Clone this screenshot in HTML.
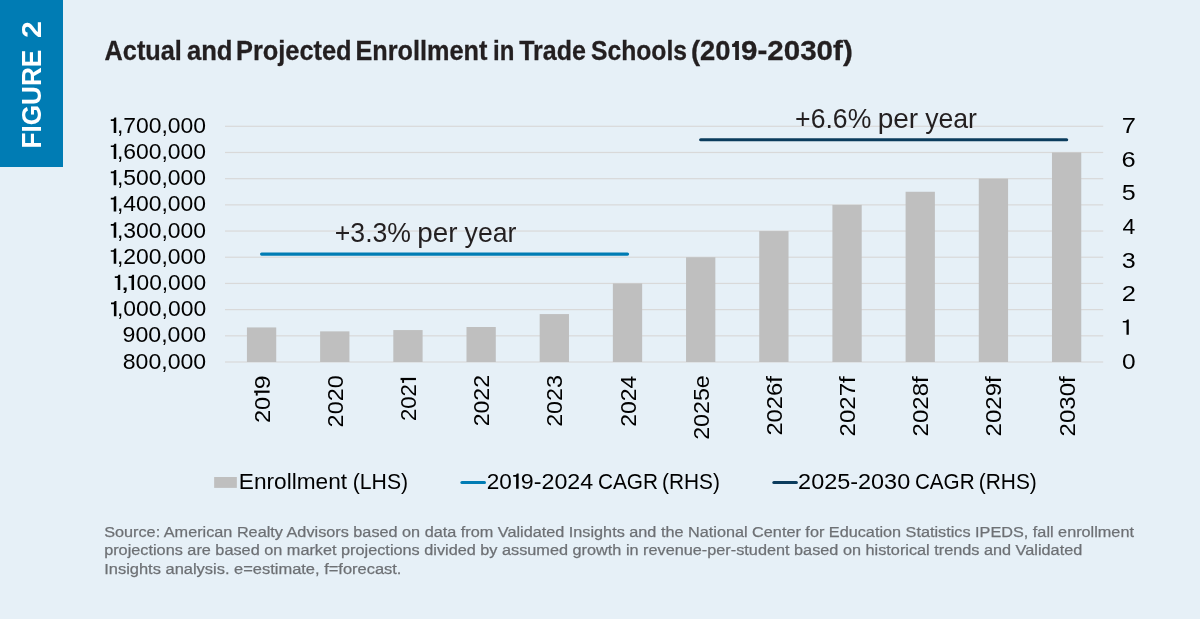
<!DOCTYPE html>
<html><head><meta charset="utf-8"><style>
html,body{margin:0;padding:0;background:#E6F0F7;}
body{width:1200px;height:619px;background:#E6F0F7;position:relative;overflow:hidden;font-family:"Liberation Sans",sans-serif;}
#fig{position:absolute;left:0;top:0;width:63px;height:167px;background:#007CB4;}
svg{position:absolute;left:0;top:0;will-change:transform;}
</style></head><body>
<div id="fig"></div>
<svg width="1200" height="619" viewBox="0 0 1200 619">
<rect x="225.0" y="125.70" width="878.20" height="1.2" fill="#D9D9D9"/>
<rect x="225.0" y="151.89" width="878.20" height="1.2" fill="#D9D9D9"/>
<rect x="225.0" y="178.08" width="878.20" height="1.2" fill="#D9D9D9"/>
<rect x="225.0" y="204.27" width="878.20" height="1.2" fill="#D9D9D9"/>
<rect x="225.0" y="230.46" width="878.20" height="1.2" fill="#D9D9D9"/>
<rect x="225.0" y="256.64" width="878.20" height="1.2" fill="#D9D9D9"/>
<rect x="225.0" y="282.83" width="878.20" height="1.2" fill="#D9D9D9"/>
<rect x="225.0" y="309.02" width="878.20" height="1.2" fill="#D9D9D9"/>
<rect x="225.0" y="335.21" width="878.20" height="1.2" fill="#D9D9D9"/>
<rect x="225.0" y="361.40" width="878.20" height="1.2" fill="#D9D9D9"/>
<rect x="246.94" y="327.43" width="29.3" height="34.57" fill="#BFBFBF"/>
<rect x="320.12" y="331.36" width="29.3" height="30.64" fill="#BFBFBF"/>
<rect x="393.31" y="330.05" width="29.3" height="31.95" fill="#BFBFBF"/>
<rect x="466.49" y="327.01" width="29.3" height="34.99" fill="#BFBFBF"/>
<rect x="539.68" y="314.07" width="29.3" height="47.93" fill="#BFBFBF"/>
<rect x="612.86" y="283.43" width="29.3" height="78.57" fill="#BFBFBF"/>
<rect x="686.04" y="257.24" width="29.3" height="104.76" fill="#BFBFBF"/>
<rect x="759.23" y="231.06" width="29.3" height="130.94" fill="#BFBFBF"/>
<rect x="832.41" y="204.87" width="29.3" height="157.13" fill="#BFBFBF"/>
<rect x="905.59" y="191.77" width="29.3" height="170.23" fill="#BFBFBF"/>
<rect x="978.78" y="178.68" width="29.3" height="183.32" fill="#BFBFBF"/>
<rect x="1051.96" y="152.49" width="29.3" height="209.51" fill="#BFBFBF"/>
<line x1="261.59" y1="254.1" x2="627.51" y2="254.1" stroke="#007CB4" stroke-width="3.2" stroke-linecap="round"/>
<line x1="700.69" y1="139.75" x2="1066.61" y2="139.75" stroke="#0B3C5D" stroke-width="3.2" stroke-linecap="round"/>
<rect x="214.15" y="477" width="22.7" height="10.9" fill="#BFBFBF"/>
<line x1="461.9" y1="482.5" x2="484.5" y2="482.5" stroke="#007CB4" stroke-width="3" stroke-linecap="round"/>
<line x1="773.8" y1="482.5" x2="796.4" y2="482.5" stroke="#0B3C5D" stroke-width="3" stroke-linecap="round"/>
<path d="M732.10,44.10 L733.70,43.50 Q734.90,42.70 735.30,41.10 L738.90,41.10 L738.90,59.90 L735.20,59.90 L735.20,47.10 L732.10,47.10 Z" fill="#231F20"/>
<rect x="254.19" y="390.60" width="15.4" height="2.2" fill="#000"/>
<rect x="255.79" y="392.60" width="1.9" height="3.0" fill="#000"/>
<rect x="400.56" y="377.90" width="15.4" height="2.2" fill="#000"/>
<rect x="402.16" y="379.90" width="1.9" height="3.0" fill="#000"/>
<path d="M110.80,119.20 L113.10,119.20 Q114.20,118.90 114.50,117.60 L116.25,117.60 L116.25,132.90 L113.70,132.90 L113.70,120.90 L110.80,120.90 Z" fill="#000"/>
<path d="M110.80,145.39 L113.10,145.39 Q114.20,145.09 114.50,143.79 L116.25,143.79 L116.25,159.09 L113.70,159.09 L113.70,147.09 L110.80,147.09 Z" fill="#000"/>
<path d="M110.80,171.58 L113.10,171.58 Q114.20,171.28 114.50,169.98 L116.25,169.98 L116.25,185.28 L113.70,185.28 L113.70,173.28 L110.80,173.28 Z" fill="#000"/>
<path d="M110.80,197.77 L113.10,197.77 Q114.20,197.47 114.50,196.17 L116.25,196.17 L116.25,211.47 L113.70,211.47 L113.70,199.47 L110.80,199.47 Z" fill="#000"/>
<path d="M110.80,223.96 L113.10,223.96 Q114.20,223.66 114.50,222.36 L116.25,222.36 L116.25,237.66 L113.70,237.66 L113.70,225.66 L110.80,225.66 Z" fill="#000"/>
<path d="M110.80,250.14 L113.10,250.14 Q114.20,249.84 114.50,248.54 L116.25,248.54 L116.25,263.84 L113.70,263.84 L113.70,251.84 L110.80,251.84 Z" fill="#000"/>
<path d="M114.80,276.33 L117.10,276.33 Q118.20,276.03 118.50,274.73 L120.25,274.73 L120.25,290.03 L117.70,290.03 L117.70,278.03 L114.80,278.03 Z" fill="#000"/>
<path d="M128.60,276.33 L130.90,276.33 Q132.00,276.03 132.30,274.73 L134.05,274.73 L134.05,290.03 L131.50,290.03 L131.50,278.03 L128.60,278.03 Z" fill="#000"/>
<path d="M111.00,302.52 L113.30,302.52 Q114.40,302.22 114.70,300.92 L116.45,300.92 L116.45,316.22 L113.90,316.22 L113.90,304.22 L111.00,304.22 Z" fill="#000"/>
<path d="M513.20,475.05 L515.50,475.05 Q516.60,474.75 516.90,473.45 L518.65,473.45 L518.65,488.75 L516.10,488.75 L516.10,476.75 L513.20,476.75 Z" fill="#000"/>
<path d="M1122.8,321.0 L1125.4,321.0 Q1126.7,320.8 1127.1,319.4 L1128.8,319.4 L1128.8,334.8 L1126.5,334.8 L1126.5,322.6 L1122.8,322.6 Z" fill="#000"/>
<text id="fig1" transform="translate(41.00,148.47) rotate(-90)" textLength="98.65" lengthAdjust="spacingAndGlyphs" style="font-family:&quot;Liberation Sans&quot;,sans-serif;font-size:27.6px;font-weight:bold;fill:#fff">FIGURE</text>
<text id="fig2" transform="translate(41.00,38.07) rotate(-90)" textLength="16.93" lengthAdjust="spacingAndGlyphs" style="font-family:&quot;Liberation Sans&quot;,sans-serif;font-size:27.6px;font-weight:bold;fill:#fff">2</text>
<text id="title0" x="104.58" y="60.00" textLength="77.30" lengthAdjust="spacingAndGlyphs" style="font-family:&quot;Liberation Sans&quot;,sans-serif;font-size:27.0px;font-weight:bold;fill:#231F20;stroke:#231F20;stroke-width:0.3px">Actual</text>
<text id="title1" x="186.90" y="60.00" textLength="45.61" lengthAdjust="spacingAndGlyphs" style="font-family:&quot;Liberation Sans&quot;,sans-serif;font-size:27.0px;font-weight:bold;fill:#231F20;stroke:#231F20;stroke-width:0.3px">and</text>
<text id="title2" x="235.99" y="60.00" textLength="115.56" lengthAdjust="spacingAndGlyphs" style="font-family:&quot;Liberation Sans&quot;,sans-serif;font-size:27.0px;font-weight:bold;fill:#231F20;stroke:#231F20;stroke-width:0.3px">Projected</text>
<text id="title3" x="355.51" y="60.00" textLength="131.97" lengthAdjust="spacingAndGlyphs" style="font-family:&quot;Liberation Sans&quot;,sans-serif;font-size:27.0px;font-weight:bold;fill:#231F20;stroke:#231F20;stroke-width:0.3px">Enrollment</text>
<text id="title4" x="493.08" y="60.00" textLength="21.32" lengthAdjust="spacingAndGlyphs" style="font-family:&quot;Liberation Sans&quot;,sans-serif;font-size:27.0px;font-weight:bold;fill:#231F20;stroke:#231F20;stroke-width:0.3px">in</text>
<text id="title5" x="519.23" y="60.00" textLength="66.66" lengthAdjust="spacingAndGlyphs" style="font-family:&quot;Liberation Sans&quot;,sans-serif;font-size:27.0px;font-weight:bold;fill:#231F20;stroke:#231F20;stroke-width:0.3px">Trade</text>
<text id="title6" x="590.95" y="60.00" textLength="96.10" lengthAdjust="spacingAndGlyphs" style="font-family:&quot;Liberation Sans&quot;,sans-serif;font-size:27.0px;font-weight:bold;fill:#231F20;stroke:#231F20;stroke-width:0.3px">Schools</text>
<text id="title7" x="690.95" y="60.00" textLength="39.54" lengthAdjust="spacingAndGlyphs" style="font-family:&quot;Liberation Sans&quot;,sans-serif;font-size:27.0px;font-weight:bold;fill:#231F20;stroke:#231F20;stroke-width:0.3px">(20</text>
<text id="title8" x="741.03" y="60.00" textLength="111.74" lengthAdjust="spacingAndGlyphs" style="font-family:&quot;Liberation Sans&quot;,sans-serif;font-size:27.0px;font-weight:bold;fill:#231F20;stroke:#231F20;stroke-width:0.3px">9-2030f)</text>
<text id="yl0" x="116.91" y="132.80" textLength="89.18" lengthAdjust="spacingAndGlyphs" style="font-family:&quot;Liberation Sans&quot;,sans-serif;font-size:22.5px;font-weight:normal;fill:#000">,700,000</text>
<text id="yl1" x="116.91" y="158.99" textLength="89.18" lengthAdjust="spacingAndGlyphs" style="font-family:&quot;Liberation Sans&quot;,sans-serif;font-size:22.5px;font-weight:normal;fill:#000">,600,000</text>
<text id="yl2" x="116.91" y="185.18" textLength="89.18" lengthAdjust="spacingAndGlyphs" style="font-family:&quot;Liberation Sans&quot;,sans-serif;font-size:22.5px;font-weight:normal;fill:#000">,500,000</text>
<text id="yl3" x="116.91" y="211.37" textLength="89.18" lengthAdjust="spacingAndGlyphs" style="font-family:&quot;Liberation Sans&quot;,sans-serif;font-size:22.5px;font-weight:normal;fill:#000">,400,000</text>
<text id="yl4" x="116.91" y="237.56" textLength="89.18" lengthAdjust="spacingAndGlyphs" style="font-family:&quot;Liberation Sans&quot;,sans-serif;font-size:22.5px;font-weight:normal;fill:#000">,300,000</text>
<text id="yl5" x="116.91" y="263.74" textLength="89.18" lengthAdjust="spacingAndGlyphs" style="font-family:&quot;Liberation Sans&quot;,sans-serif;font-size:22.5px;font-weight:normal;fill:#000">,200,000</text>
<text id="yl6c" x="120.54" y="289.93" textLength="9.16" lengthAdjust="spacingAndGlyphs" style="font-family:&quot;Liberation Sans&quot;,sans-serif;font-size:22.5px;font-weight:normal;fill:#000">,</text>
<text id="yl6" x="136.52" y="289.93" textLength="69.55" lengthAdjust="spacingAndGlyphs" style="font-family:&quot;Liberation Sans&quot;,sans-serif;font-size:22.5px;font-weight:normal;fill:#000">00,000</text>
<text id="yl7" x="117.01" y="316.12" textLength="89.14" lengthAdjust="spacingAndGlyphs" style="font-family:&quot;Liberation Sans&quot;,sans-serif;font-size:22.5px;font-weight:normal;fill:#000">,000,000</text>
<text id="yl8" x="122.60" y="342.31" textLength="83.54" lengthAdjust="spacingAndGlyphs" style="font-family:&quot;Liberation Sans&quot;,sans-serif;font-size:22.5px;font-weight:normal;fill:#000">900,000</text>
<text id="yl9" x="122.69" y="368.50" textLength="83.50" lengthAdjust="spacingAndGlyphs" style="font-family:&quot;Liberation Sans&quot;,sans-serif;font-size:22.5px;font-weight:normal;fill:#000">800,000</text>
<text id="yr0" x="1121.76" y="132.90" textLength="14.23" lengthAdjust="spacingAndGlyphs" style="font-family:&quot;Liberation Sans&quot;,sans-serif;font-size:22.5px;font-weight:normal;fill:#000">7</text>
<text id="yr1" x="1121.63" y="166.57" textLength="14.15" lengthAdjust="spacingAndGlyphs" style="font-family:&quot;Liberation Sans&quot;,sans-serif;font-size:22.5px;font-weight:normal;fill:#000">6</text>
<text id="yr2" x="1121.89" y="200.24" textLength="13.94" lengthAdjust="spacingAndGlyphs" style="font-family:&quot;Liberation Sans&quot;,sans-serif;font-size:22.5px;font-weight:normal;fill:#000">5</text>
<text id="yr3" x="1122.55" y="233.91" textLength="12.82" lengthAdjust="spacingAndGlyphs" style="font-family:&quot;Liberation Sans&quot;,sans-serif;font-size:22.5px;font-weight:normal;fill:#000">4</text>
<text id="yr4" x="1121.88" y="267.59" textLength="13.95" lengthAdjust="spacingAndGlyphs" style="font-family:&quot;Liberation Sans&quot;,sans-serif;font-size:22.5px;font-weight:normal;fill:#000">3</text>
<text id="yr5" x="1121.73" y="301.26" textLength="14.19" lengthAdjust="spacingAndGlyphs" style="font-family:&quot;Liberation Sans&quot;,sans-serif;font-size:22.5px;font-weight:normal;fill:#000">2</text>
<text id="yr7" x="1122.03" y="368.60" textLength="13.61" lengthAdjust="spacingAndGlyphs" style="font-family:&quot;Liberation Sans&quot;,sans-serif;font-size:22.5px;font-weight:normal;fill:#000">0</text>
<text id="xl0a" transform="translate(269.59,423.08) rotate(-90)" textLength="26.21" lengthAdjust="spacingAndGlyphs" style="font-family:&quot;Liberation Sans&quot;,sans-serif;font-size:22.2px;font-weight:normal;fill:#000">20</text>
<text id="xl0b" transform="translate(269.59,389.24) rotate(-90)" textLength="13.81" lengthAdjust="spacingAndGlyphs" style="font-family:&quot;Liberation Sans&quot;,sans-serif;font-size:22.2px;font-weight:normal;fill:#000">9</text>
<text id="xl1" transform="translate(342.77,427.38) rotate(-90)" textLength="52.10" lengthAdjust="spacingAndGlyphs" style="font-family:&quot;Liberation Sans&quot;,sans-serif;font-size:22.2px;font-weight:normal;fill:#000">2020</text>
<text id="xl2a" transform="translate(415.96,421.04) rotate(-90)" textLength="36.87" lengthAdjust="spacingAndGlyphs" style="font-family:&quot;Liberation Sans&quot;,sans-serif;font-size:22.2px;font-weight:normal;fill:#000">202</text>
<text id="xl3" transform="translate(489.14,426.33) rotate(-90)" textLength="51.34" lengthAdjust="spacingAndGlyphs" style="font-family:&quot;Liberation Sans&quot;,sans-serif;font-size:22.2px;font-weight:normal;fill:#000">2022</text>
<text id="xl4" transform="translate(562.33,426.87) rotate(-90)" textLength="51.82" lengthAdjust="spacingAndGlyphs" style="font-family:&quot;Liberation Sans&quot;,sans-serif;font-size:22.2px;font-weight:normal;fill:#000">2023</text>
<text id="xl5" transform="translate(635.51,426.87) rotate(-90)" textLength="51.13" lengthAdjust="spacingAndGlyphs" style="font-family:&quot;Liberation Sans&quot;,sans-serif;font-size:22.2px;font-weight:normal;fill:#000">2024</text>
<text id="xl6" transform="translate(708.69,439.83) rotate(-90)" textLength="64.62" lengthAdjust="spacingAndGlyphs" style="font-family:&quot;Liberation Sans&quot;,sans-serif;font-size:22.2px;font-weight:normal;fill:#000">2025e</text>
<text id="xl7" transform="translate(781.88,435.61) rotate(-90)" textLength="59.42" lengthAdjust="spacingAndGlyphs" style="font-family:&quot;Liberation Sans&quot;,sans-serif;font-size:22.2px;font-weight:normal;fill:#000">2026f</text>
<text id="xl8" transform="translate(855.06,436.38) rotate(-90)" textLength="60.04" lengthAdjust="spacingAndGlyphs" style="font-family:&quot;Liberation Sans&quot;,sans-serif;font-size:22.2px;font-weight:normal;fill:#000">2027f</text>
<text id="xl9" transform="translate(928.24,436.38) rotate(-90)" textLength="60.04" lengthAdjust="spacingAndGlyphs" style="font-family:&quot;Liberation Sans&quot;,sans-serif;font-size:22.2px;font-weight:normal;fill:#000">2028f</text>
<text id="xl10" transform="translate(1001.43,436.38) rotate(-90)" textLength="60.04" lengthAdjust="spacingAndGlyphs" style="font-family:&quot;Liberation Sans&quot;,sans-serif;font-size:22.2px;font-weight:normal;fill:#000">2029f</text>
<text id="xl11" transform="translate(1074.61,436.38) rotate(-90)" textLength="60.04" lengthAdjust="spacingAndGlyphs" style="font-family:&quot;Liberation Sans&quot;,sans-serif;font-size:22.2px;font-weight:normal;fill:#000">2030f</text>
<text id="ann1_0" x="334.81" y="241.80" textLength="76.23" lengthAdjust="spacingAndGlyphs" style="font-family:&quot;Liberation Sans&quot;,sans-serif;font-size:27.8px;font-weight:normal;fill:#231F20">+3.3%</text>
<text id="ann1_1" x="417.27" y="241.80" textLength="40.17" lengthAdjust="spacingAndGlyphs" style="font-family:&quot;Liberation Sans&quot;,sans-serif;font-size:27.8px;font-weight:normal;fill:#231F20">per</text>
<text id="ann1_2" x="464.62" y="241.80" textLength="51.90" lengthAdjust="spacingAndGlyphs" style="font-family:&quot;Liberation Sans&quot;,sans-serif;font-size:27.8px;font-weight:normal;fill:#231F20">year</text>
<text id="ann2_0" x="795.10" y="128.00" textLength="76.21" lengthAdjust="spacingAndGlyphs" style="font-family:&quot;Liberation Sans&quot;,sans-serif;font-size:27.8px;font-weight:normal;fill:#231F20">+6.6%</text>
<text id="ann2_1" x="877.71" y="128.00" textLength="40.49" lengthAdjust="spacingAndGlyphs" style="font-family:&quot;Liberation Sans&quot;,sans-serif;font-size:27.8px;font-weight:normal;fill:#231F20">per</text>
<text id="ann2_2" x="925.17" y="128.00" textLength="51.83" lengthAdjust="spacingAndGlyphs" style="font-family:&quot;Liberation Sans&quot;,sans-serif;font-size:27.8px;font-weight:normal;fill:#231F20">year</text>
<text id="lg0" x="238.86" y="488.90" textLength="108.22" lengthAdjust="spacingAndGlyphs" style="font-family:&quot;Liberation Sans&quot;,sans-serif;font-size:22.0px;font-weight:normal;fill:#000">Enrollment</text>
<text id="lg1" x="352.77" y="488.90" textLength="55.36" lengthAdjust="spacingAndGlyphs" style="font-family:&quot;Liberation Sans&quot;,sans-serif;font-size:22.0px;font-weight:normal;fill:#000">(LHS)</text>
<text id="lg2" x="486.72" y="488.90" textLength="25.16" lengthAdjust="spacingAndGlyphs" style="font-family:&quot;Liberation Sans&quot;,sans-serif;font-size:22.0px;font-weight:normal;fill:#000">20</text>
<text id="lg3" x="520.86" y="488.90" textLength="72.37" lengthAdjust="spacingAndGlyphs" style="font-family:&quot;Liberation Sans&quot;,sans-serif;font-size:22.0px;font-weight:normal;fill:#000">9-2024</text>
<text id="lg4" x="598.02" y="488.90" textLength="60.02" lengthAdjust="spacingAndGlyphs" style="font-family:&quot;Liberation Sans&quot;,sans-serif;font-size:22.0px;font-weight:normal;fill:#000">CAGR</text>
<text id="lg5" x="662.02" y="488.90" textLength="57.89" lengthAdjust="spacingAndGlyphs" style="font-family:&quot;Liberation Sans&quot;,sans-serif;font-size:22.0px;font-weight:normal;fill:#000">(RHS)</text>
<text id="lg6" x="798.12" y="488.90" textLength="112.09" lengthAdjust="spacingAndGlyphs" style="font-family:&quot;Liberation Sans&quot;,sans-serif;font-size:22.0px;font-weight:normal;fill:#000">2025-2030</text>
<text id="lg7" x="914.90" y="488.90" textLength="59.73" lengthAdjust="spacingAndGlyphs" style="font-family:&quot;Liberation Sans&quot;,sans-serif;font-size:22.0px;font-weight:normal;fill:#000">CAGR</text>
<text id="lg8" x="978.75" y="488.90" textLength="58.08" lengthAdjust="spacingAndGlyphs" style="font-family:&quot;Liberation Sans&quot;,sans-serif;font-size:22.0px;font-weight:normal;fill:#000">(RHS)</text>
<text id="s1" x="104.20" y="537.00" textLength="1029.76" lengthAdjust="spacingAndGlyphs" style="font-family:&quot;Liberation Sans&quot;,sans-serif;font-size:15.25px;font-weight:normal;fill:#6D7074;stroke:#6D7074;stroke-width:0.25px">Source: American Realty Advisors based on data from Validated Insights and the National Center for Education Statistics IPEDS, fall enrollment</text>
<text id="s2" x="104.17" y="554.90" textLength="978.10" lengthAdjust="spacingAndGlyphs" style="font-family:&quot;Liberation Sans&quot;,sans-serif;font-size:15.25px;font-weight:normal;fill:#6D7074;stroke:#6D7074;stroke-width:0.25px">projections are based on market projections divided by assumed growth in revenue-per-student based on historical trends and Validated</text>
<text id="s3" x="104.21" y="573.90" textLength="297.23" lengthAdjust="spacingAndGlyphs" style="font-family:&quot;Liberation Sans&quot;,sans-serif;font-size:15.25px;font-weight:normal;fill:#6D7074;stroke:#6D7074;stroke-width:0.25px">Insights analysis. e=estimate, f=forecast.</text>
</svg>
</body></html>
